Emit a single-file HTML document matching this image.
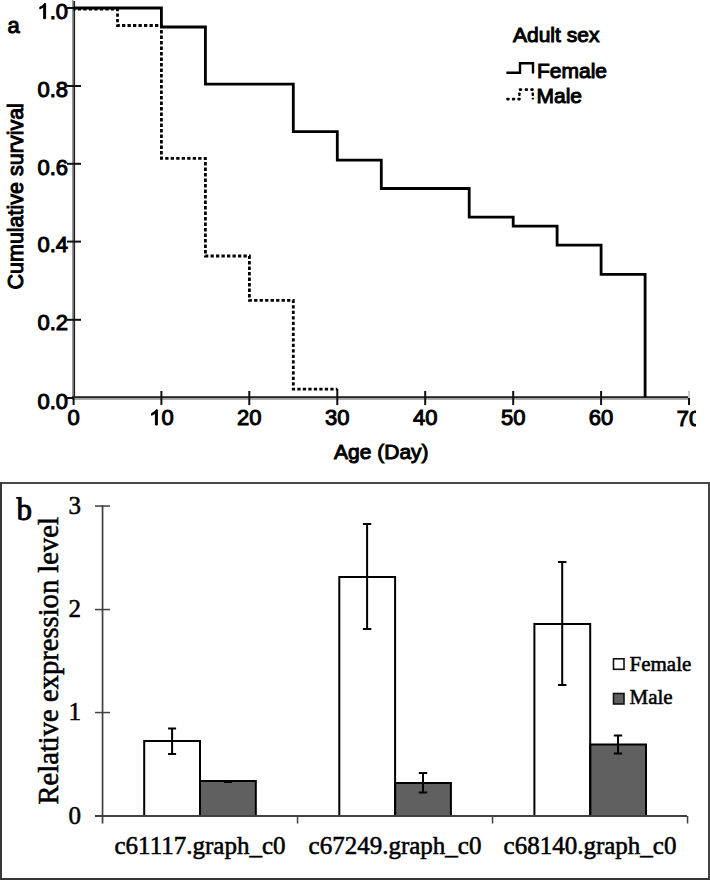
<!DOCTYPE html>
<html><head><meta charset="utf-8">
<style>
html,body{margin:0;padding:0;background:#fff;}
body{width:710px;height:880px;overflow:hidden;}
svg{display:block;}
.s{font-family:"Liberation Sans",sans-serif;fill:#000;stroke:#000;stroke-width:1px;}
.r{font-family:"Liberation Serif",serif;fill:#000;stroke:#000;stroke-width:0.55px;}
</style></head>
<body>
<svg width="710" height="880" viewBox="0 0 710 880">
<rect width="710" height="880" fill="#fff"/>
<!-- ===== Panel a ===== -->
<text class="s" x="7.4" y="32.6" font-size="22">a</text>
<!-- y axis -->
<rect x="72" y="0" width="1.4" height="400" fill="#999"/>
<rect x="73.4" y="1" width="1.7" height="397" fill="#222"/>
<!-- x axis -->
<rect x="72" y="396.2" width="617" height="1.9" fill="#222"/>
<rect x="72" y="398.1" width="617" height="1.7" fill="#999"/>
<!-- y ticks -->
<g fill="#111">
<rect x="67" y="7" width="14" height="2"/>
<rect x="67" y="85" width="14" height="2"/>
<rect x="67" y="162.8" width="14" height="2"/>
<rect x="67" y="240.6" width="14" height="2"/>
<rect x="67" y="318.8" width="14" height="2"/>
<rect x="67" y="397" width="6" height="2"/>
</g>
<!-- x ticks -->
<g fill="#111">
<rect x="72.6" y="398" width="2" height="7"/>
<rect x="160.4" y="391" width="2" height="14"/>
<rect x="248.3" y="391" width="2" height="14"/>
<rect x="336.3" y="389" width="2" height="16"/>
<rect x="424.2" y="391" width="2" height="14"/>
<rect x="512.2" y="391" width="2" height="14"/>
<rect x="600.1" y="391" width="2" height="14"/>
<rect x="688" y="398" width="2" height="7"/>
</g>
<rect x="688" y="391" width="2" height="7" fill="#ccc"/>
<!-- y labels -->
<g class="s" font-size="22" text-anchor="end">
<text x="68" y="18.7">.0</text>
<text x="68" y="96.6">0.8</text>
<text x="68" y="174.5">0.6</text>
<text x="68" y="252.4">0.4</text>
<text x="68" y="330.3">0.2</text>
<text x="68" y="408.7">0.0</text>
</g>
<path d="M763 0H583V1115Q518 1054 412 994T222 904V1073Q372 1142 484 1240T643 1409H763Z" transform="translate(37.42,18.7) scale(0.010742,-0.010742)" fill="#000" stroke="#000" stroke-width="93"/>
<path d="M763 0H583V1115Q518 1054 412 994T222 904V1073Q372 1142 484 1240T643 1409H763Z" transform="translate(149.16,425) scale(0.010742,-0.010742)" fill="#000" stroke="#000" stroke-width="93"/>
<!-- x labels -->
<g class="s" font-size="22" text-anchor="middle">
<text x="73.5" y="425">0</text>
<text x="161.4" y="425" text-anchor="start">0</text>
<text x="249.3" y="425">20</text>
<text x="337.3" y="425">30</text>
<text x="425.2" y="425">40</text>
<text x="513.2" y="425">50</text>
<text x="601.1" y="425">60</text>
</g>
<svg x="0" y="0" width="696" height="480" overflow="hidden">
<text class="s" font-size="22" x="689" y="425.5" text-anchor="middle">70</text>
</svg>
<text class="s" font-size="21" x="381.3" y="459.3" text-anchor="middle">Age (Day)</text>
<text class="s" font-size="21.5" transform="translate(22.8,196.3) rotate(-90)" text-anchor="middle">Cumulative survival</text>
<!-- curves -->
<path d="M73.5,9.2 H117.5 V25.5 H161.4 V158.3 H205.4 V256 H249.4 V300.4 H293.3 V389.2 H337.3" fill="none" stroke="#000" stroke-width="2.8" stroke-dasharray="3.3 2.2" stroke-dashoffset="1.2"/>
<path d="M73.5,8 H161.4 V27 H205.4 V84.2 H293.3 V131.6 H337.3 V160.2 H381.3 V188.5 H469.2 V217.2 H513.2 V226.2 H557.1 V245.2 H601.1 V274.4 H645.1 V397" fill="none" stroke="#000" stroke-width="2.8"/>
<!-- legend a -->
<text class="s" font-size="21" x="513" y="42">Adult sex</text>
<path d="M506.4,72.7 H520 V63.3 H533 V73.6" fill="none" stroke="#000" stroke-width="2.4"/>
<text class="s" font-size="21" x="537" y="77.8">Female</text>
<g fill="#000">
<rect x="506.3" y="97.8" width="3.3" height="2.6" rx="0.8"/>
<rect x="511.9" y="97.8" width="3.3" height="2.6" rx="0.8"/>
<rect x="517.4" y="97.8" width="3.3" height="2.6" rx="0.8"/>
<rect x="518.2" y="92.4" width="2.4" height="3.6" rx="0.8"/>
<rect x="518.8" y="88.3" width="3.4" height="2.6" rx="0.8"/>
<rect x="524.7" y="88.3" width="3.4" height="2.6" rx="0.8"/>
<rect x="530.3" y="88.3" width="3.4" height="2.6" rx="0.8"/>
<rect x="531.6" y="92.4" width="2.4" height="3.6" rx="0.8"/>
<rect x="531.6" y="97.8" width="2.4" height="1.6" rx="0.6"/>
</g>
<text class="s" font-size="21" x="536.5" y="103.2">Male</text>

<!-- ===== Panel b ===== -->
<rect x="0" y="482" width="710" height="2" fill="#484848"/>
<rect x="708" y="482" width="2" height="398" fill="#444"/>
<rect x="0" y="482" width="2" height="398" fill="#383838"/>
<rect x="0" y="878" width="710" height="2" fill="#363636"/>
<text class="r" font-size="31" x="16.6" y="519.6" style="stroke-width:0.9px">b</text>
<g class="r" font-size="25" text-anchor="end">
<text x="81" y="514">3</text>
<text x="81" y="617.2">2</text>
<text x="81" y="720.4">1</text>
<text x="81" y="823.6">0</text>
</g>
<text class="r" font-size="28.6" transform="translate(57.7,660.8) rotate(-90)" text-anchor="middle">Relative expression level</text>
<g class="r" font-size="25" text-anchor="middle">
<text x="200" y="854">c61117.graph_c0</text>
<text x="395" y="854">c67249.graph_c0</text>
<text x="590" y="854">c68140.graph_c0</text>
</g>
<!-- bars -->
<rect x="144.2" y="741" width="55.8" height="75" fill="#fff"/>
<rect x="200" y="781" width="55.8" height="35" fill="#606060"/>
<rect x="339.3" y="577" width="55.8" height="239" fill="#fff"/>
<rect x="395.1" y="782.9" width="55.8" height="33.10000000000002" fill="#606060"/>
<rect x="534.4" y="624" width="55.8" height="192" fill="#fff"/>
<rect x="590.2" y="744.5" width="55.8" height="71.5" fill="#606060"/>
<g stroke="#000" stroke-width="2" fill="none">
<path d="M144.2,816 V741 H200.0 V816"/>
<path d="M200,816 V781 H255.8 V816"/>
<path d="M339.3,816 V577 H395.1 V816"/>
<path d="M395.1,816 V782.9 H450.9 V816"/>
<path d="M534.4,816 V624 H590.2 V816"/>
<path d="M590.2,816 V744.5 H646.0 V816"/>
</g>
<!-- axes -->
<g fill="#404040">
<rect x="101.7" y="505.2" width="1.7" height="318.3"/>
<rect x="95" y="815" width="592" height="2"/>
<rect x="95" y="505.3" width="15" height="1.5"/>
<rect x="95" y="608.8" width="15" height="1.5"/>
<rect x="95" y="711.8" width="15" height="1.5"/>
<rect x="296.8" y="816" width="1.5" height="7.5"/>
<rect x="491.8" y="816" width="1.5" height="7.5"/>
<rect x="686.8" y="816" width="1.5" height="7.5"/>
</g>
<!-- error bars -->
<g stroke="#000" stroke-width="2" fill="none">
<path d="M172.1,728.5 V754 M168.1,728.5 H176.1 M168.1,754 H176.1"/>
<path d="M224,780.9 H232 M224,782.1 H232"/>
<path d="M367.1,524 V629 M362.9,524 H371.3 M362.9,629 H371.3"/>
<path d="M423,773 V792.6 M418.8,773 H427.2 M418.8,792.6 H427.2"/>
<path d="M562.2,562 V685 M558,562 H566.4 M558,685 H566.4"/>
<path d="M618,735.5 V753.6 M613.8,735.5 H622.2 M613.8,753.6 H622.2"/>
</g>
<!-- legend b -->
<rect x="613.5" y="658.8" width="10.5" height="10.5" fill="#fff" stroke="#111" stroke-width="1.6"/>
<rect x="613.5" y="693.5" width="10.5" height="10.5" fill="#606060" stroke="#111" stroke-width="1.6"/>
<text class="r" font-size="21" x="629.5" y="671">Female</text>
<text class="r" font-size="21" x="629.5" y="704.2">Male</text>
</svg>
</body></html>
